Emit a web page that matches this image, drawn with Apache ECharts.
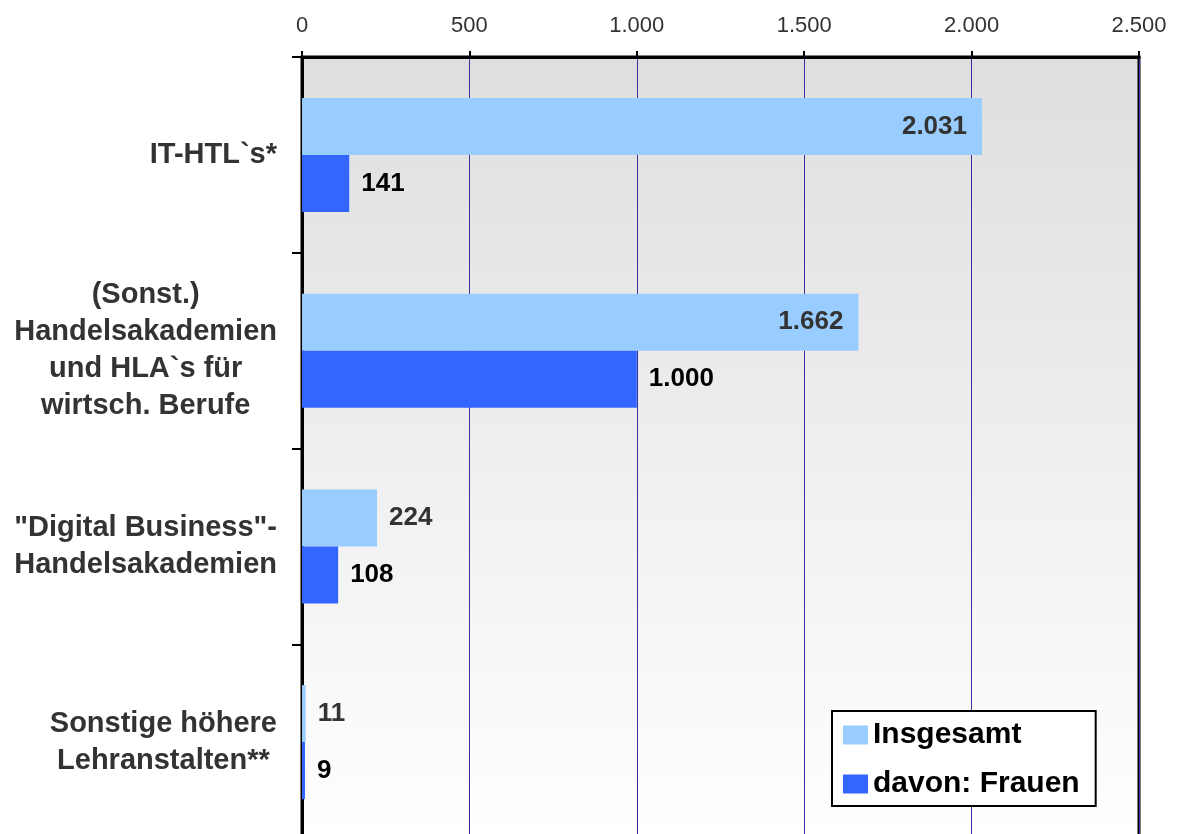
<!DOCTYPE html>
<html>
<head>
<meta charset="utf-8">
<script src="https://cdn.jsdelivr.net/npm/echarts@6/dist/echarts.min.js"></script>
<style>
  html, body { margin: 0; padding: 0; background: #fff; }
  #chart { width: 1179px; height: 834px; }
</style>
</head>
<body>
<div id="chart"></div>
<script>
// Schularten (von oben nach unten)
const categories = [
  "IT-HTL`s*",
  "(Sonst.)\nHandelsakademien\nund HLA`s für\nwirtsch. Berufe",
  "\"Digital Business\"-\nHandelsakademien",
  "Sonstige höhere\nLehranstalten**"
];
const seriesNames = ["Insgesamt", "davon: Frauen"];
const totalValues = [2031, 1662, 224, 11];
const womenValues = [141, 1000, 108, 9];
const xTicks = [0, 500, 1000, 1500, 2000, 2500];

const font = "'Liberation Sans', Arial, Helvetica, sans-serif";

// Tausenderpunkt wie im Original
function fmt(n) {
  return String(n).replace(/\B(?=(\d{3})+(?!\d))/g, ".");
}

// lange Balken bekommen die Zahl innen, kurze rechts daneben
function toItems(values, color) {
  return values.map(function (v) {
    const inside = v >= 1500;
    return {
      value: v,
      label: {
        position: inside ? "insideRight" : "right",
        distance: inside ? 15 : 12,
        color: color
      }
    };
  });
}

const myChart = echarts.init(document.getElementById("chart"));

const option = {
  animation: false,
  backgroundColor: "#fff",
  textStyle: { fontFamily: font },
  grid: {
    left: 302,
    right: 40,
    top: 57,
    bottom: -6,
    outerBoundsMode: "none",
    show: true,
    borderColor: "#000",
    borderWidth: 3,
    backgroundColor: new echarts.graphic.LinearGradient(0, 0, 0, 1, [
      { offset: 0, color: "#dedede" },
      { offset: 1, color: "#ffffff" }
    ])
  },
  legend: {
    orient: "vertical",
    left: 832,
    top: 711,
    padding: [9, 16, 7, 11],
    itemGap: 19,
    itemWidth: 25,
    itemHeight: 19,
    icon: "rect",
    backgroundColor: "#fff",
    borderColor: "#000",
    borderWidth: 2,
    borderRadius: 0,
    data: seriesNames,
    textStyle: {
      fontFamily: font,
      fontSize: 30,
      fontWeight: "bold",
      color: "#000",
      lineHeight: 30
    }
  },
  xAxis: {
    type: "value",
    position: "top",
    min: xTicks[0],
    max: xTicks[xTicks.length - 1],
    interval: 500,
    axisLine: { show: true, lineStyle: { color: "#000", width: 3 } },
    axisTick: { show: true, length: 6, lineStyle: { color: "#000", width: 2 } },
    splitLine: { show: true, lineStyle: { color: "#333399", width: 1 } },
    axisLabel: {
      margin: 20,
      fontFamily: font,
      fontSize: 22,
      color: "#333",
      formatter: function (v) { return fmt(v); }
    }
  },
  yAxis: {
    type: "category",
    inverse: true,
    data: categories,
    axisLine: { show: true, lineStyle: { color: "#000", width: 3 } },
    axisTick: { show: true, length: 10, lineStyle: { color: "#000", width: 2 } },
    axisLabel: {
      margin: 25,
      align: "right",
      formatter: function (v) {
        return v.split("\n").map(function (l) { return "{c|" + l + "}"; }).join("\n");
      },
      rich: {
        c: {
          align: "center",
          fontFamily: font,
          fontSize: 29,
          fontWeight: "bold",
          color: "#333",
          lineHeight: 37
        }
      }
    }
  },
  series: [
    {
      name: seriesNames[0],
      type: "bar",
      barWidth: 57,
      barGap: "0%",
      itemStyle: { color: "#99ccff" },
      label: {
        show: true,
        fontFamily: font,
        fontSize: 26,
        fontWeight: "bold",
        formatter: function (p) { return fmt(p.value); }
      },
      data: toItems(totalValues, "#333")
    },
    {
      name: seriesNames[1],
      type: "bar",
      barWidth: 57,
      barGap: "0%",
      itemStyle: { color: "#3366ff" },
      label: {
        show: true,
        fontFamily: font,
        fontSize: 26,
        fontWeight: "bold",
        formatter: function (p) { return fmt(p.value); }
      },
      data: toItems(womenValues, "#000")
    }
  ]
};

myChart.setOption(option);
</script>
</body>
</html>
